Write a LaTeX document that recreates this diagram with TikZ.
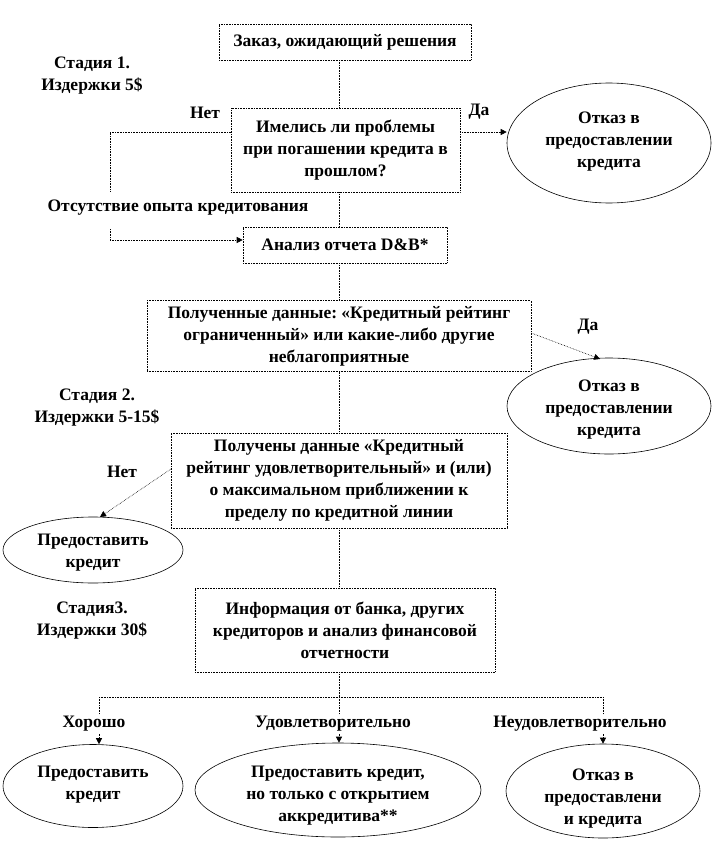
\documentclass[tikz,border=0pt]{standalone}
\usepackage{fontspec}
\setmainfont{Liberation Serif}
\usetikzlibrary{shapes.geometric,arrows.meta}
\frenchspacing
\begin{document}
\begin{tikzpicture}[x=1pt,y=-1pt,
  every node/.style={font=\fontsize{17.5}{22}\selectfont\bfseries, align=center, inner sep=0pt},
  box/.style={draw, densely dotted, line width=0.6pt},
  oval/.style={draw, ellipse, line width=0.6pt},
  conn/.style={densely dotted, line width=0.6pt},
  arr/.style={conn, -{Triangle[length=6pt,width=6pt]}},
  lbl/.style={fill=white, inner sep=1pt}]
\useasboundingbox (0,0) rectangle (714,864);
% boxes
\node[box, minimum width=252pt, minimum height=36pt] (b1) at (345,42) {Заказ, ожидающий решения};
\node[box, minimum width=229pt, minimum height=84pt] (b2) at (345.5,150) {Имелись ли проблемы\\при погашении кредита в\\прошлом?};
\node[box, minimum width=204pt, minimum height=36pt] (b3) at (345,245) {Анализ отчета D\&B*};
\node[box, minimum width=384pt, minimum height=71pt] (b4) at (339,336) {Полученные данные: «Кредитный рейтинг\\ограниченный» или какие-либо другие\\неблагоприятные};
\node[box, minimum width=336pt, minimum height=95pt] (b5) at (339,480.5) {Получены данные «Кредитный\\рейтинг удовлетворительный» и (или)\\о максимальном приближении к\\пределу по кредитной линии};
\node[box, minimum width=300pt, minimum height=84pt] (b6) at (345,630) {Информация от банка, других\\кредиторов и анализ финансовой\\отчетности};
% ovals
\node[oval, minimum width=204pt, minimum height=120pt] (e1) at (609,143) {};
\node[oval, minimum width=204pt, minimum height=96pt] (e2) at (609,406) {};
\node[oval, minimum width=180pt, minimum height=66pt] (e3) at (93,550) {};
\node[oval, minimum width=180pt, minimum height=83pt] (e4) at (93,786) {};
\node[oval, minimum width=286pt, minimum height=94pt] (e5) at (338,790) {};
\node[oval, minimum width=194pt, minimum height=94pt] (e6) at (603,791) {};
\node (e1txt) at (609,142) {Отказ в\\предоставлении\\кредита};
\node (e2txt) at (609,410) {Отказ в\\предоставлении\\кредита};
\node (e3txt) at (93,553) {Предоставить\\кредит};
\node (e4txt) at (93,785) {Предоставить\\кредит};
\node (e5txt) at (338,796) {Предоставить кредит,\\но только с открытием\\аккредитива**};
\node (e6txt) at (603,799) {Отказ в\\предоставлени\\и кредита};
% stage labels
\node (s1) at (92,76) {Стадия 1.\\Издержки 5\$};
\node (s2) at (97,408) {Стадия 2.\\Издержки 5-15\$};
\node (s3) at (92,621) {Стадия3.\\Издержки 30\$};
% helper coordinates
\coordinate (cx) at (339,0);
\coordinate (y132) at (0,132);
\coordinate (nl) at (110,132);
\coordinate (nl2) at (110,192);
\coordinate (nl3) at (110,229);
\coordinate (nl4) at (110,240);
\coordinate (y333) at (0,333);
\coordinate (e2top) at (600,359);
\coordinate (b5s) at (171,469);
\coordinate (e3top) at (100,517);
\coordinate (split) at (339,697);
\coordinate (L) at (99,697);
\coordinate (R) at (603,697);
% connectors
\draw[conn] (b1.south -| cx) -- (b2.north -| cx);
\draw[arr] (b2.east |- y132) -- (e1.west |- y132);
\draw[conn] (b2.west |- y132) -- (nl) -- (nl2);
\draw[arr] (nl3) -- (nl4) -- (b3.west |- nl4);
\draw[conn] (b2.south -| cx) -- (b3.north -| cx);
\draw[conn] (b3.south -| cx) -- (b4.north -| cx);
\draw[arr] (b4.east |- y333) -- (e2top);
\draw[conn] (b4.south -| cx) -- (b5.north -| cx);
\draw[arr] (b5s) -- (e3top);
\draw[conn] (b5.south -| cx) -- (b6.north -| cx);
\draw[conn] (b6.south -| cx) -- (split);
\draw[conn] (L) -- (R);
\draw[arr] (L) -- (e4.north -| L);
\draw[arr] (split) -- (e5.north -| split);
\draw[arr] (R) -- (e6.north);
% branch labels
\node (no1) at (205,113) {Нет};
\node (yes1) at (479,112) {Да};
\node (noexp) at (178,208) {Отсутствие опыта кредитования};
\node (yes2) at (588,327) {Да};
\node (no2) at (122,472) {Нет};
\node[lbl] (good) at (94,724) {Хорошо};
\node[lbl] (sat) at (333,724) {Удовлетворительно};
\node[lbl] (unsat) at (580,724) {Неудовлетворительно};
\end{tikzpicture}
\end{document}
